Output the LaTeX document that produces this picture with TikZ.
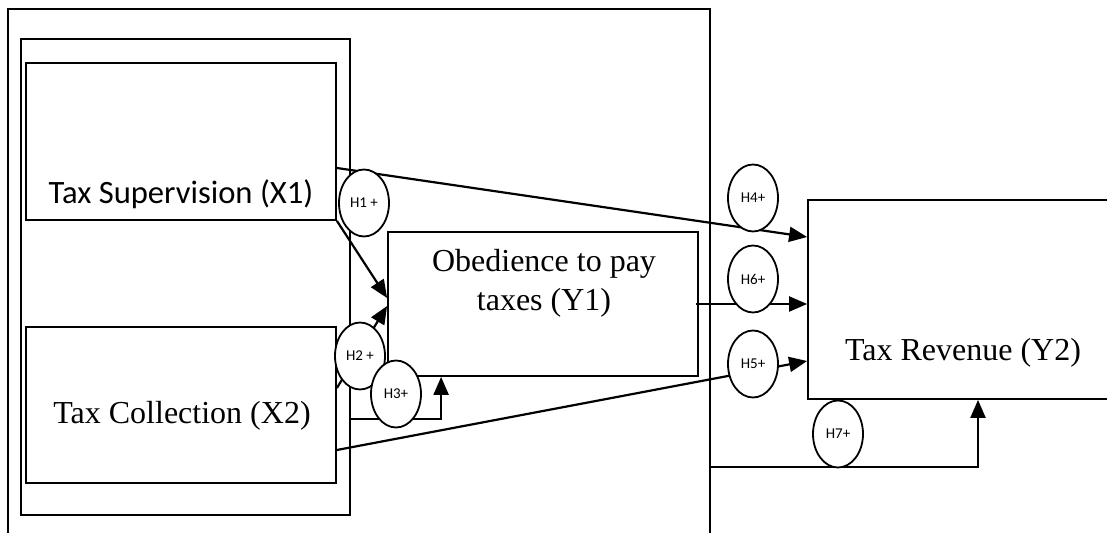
\documentclass[tikz,border=0pt]{standalone}
\usepackage{fontspec}
\setmainfont{Liberation Serif}
\newfontfamily\calibri{Carlito}
\usetikzlibrary{shapes,arrows.meta}

\begin{document}
\begin{tikzpicture}[x=0.5pt,y=-0.5pt]
		\tikzstyle{Box}		= [rectangle, draw, line width=0.9pt, inner sep=0pt]
		\tikzstyle{Hyp}		= [ellipse, draw, fill=white, line width=0.9pt, minimum width=25pt, minimum height=33.5pt, inner sep=0pt, font=\calibri\fontsize{7.5}{8}\selectfont]
		\tikzstyle{Link}	= [line width=1.1pt, -{Triangle[length=9pt,width=7.5pt]}]
		\tikzstyle{Label}	= [font=\fontsize{16}{19.5}\selectfont, align=center]

		\useasboundingbox (0,0) rectangle (1107,533);
		\clip (0,0) rectangle (1107,533);

		\node (outer) at (359,304.5) [Box][line width=1.1pt, minimum width=351pt, minimum height=295.5pt] {};
		\node (grp) at (185.5,277) [Box][minimum width=164.5pt, minimum height=238pt] {};
		\node (x1) at (181,141.5) [Box][minimum width=155pt, minimum height=78.5pt] {};
		\node (x2) at (181,405) [Box][minimum width=155pt, minimum height=78pt] {};
		\node (y1) at (543,304) [Box][minimum width=155pt, minimum height=72pt] {};
		\node (y2) at (964,299.5) [Box][minimum width=156pt, minimum height=99.5pt] {};

		\node (x1txt) at (181,194) [Label][font=\calibri\fontsize{16.3}{19}\selectfont] {Tax Supervision (X1)};
		\node (x2txt) at (182,416) [Label] {Tax Collection (X2)};
		\node (y1txt) at (544,283) [Label] {Obedience to pay\\taxes (Y1)};
		\node (y2txt) at (963,353) [Label] {Tax Revenue (Y2)};

		\draw [Link] (x1.south east) to ([yshift=3pt]y1.west);
		\draw [Link] ([yshift=8.5pt]x2.east) to ([yshift=-1pt]y1.west);
		\draw [Link] ([yshift=-71pt]grp.east) -| ([xshift=27pt]y1.south west);
		\draw [Link] ([yshift=-13.25pt]x1.east) to ([yshift=31.25pt]y2.west);
		\draw [Link] ([yshift=-22.5pt]x2.east) to ([yshift=-30.75pt]y2.west);
		\draw [Link] ([xshift=-1.5pt]y1.east) to (y1.east -| y2.west);
		\draw [Link] ([yshift=-81.25pt]outer.east) -| ([xshift=7pt]y2.south);

		\node (h1) at (364,203) [Hyp] {H1 +};
		\node (h2) at (360,356) [Hyp] {H2 +};
		\node (h3) at (396,394) [Hyp] {H3+};
		\node (h4) at (753,198) [Hyp] {H4+};
		\node (h6) at (753,279) [Hyp] {H6+};
		\node (h5) at (753,364) [Hyp] {H5+};
		\node (h7) at (838,434) [Hyp] {H7+};
	\end{tikzpicture}
\end{document}
